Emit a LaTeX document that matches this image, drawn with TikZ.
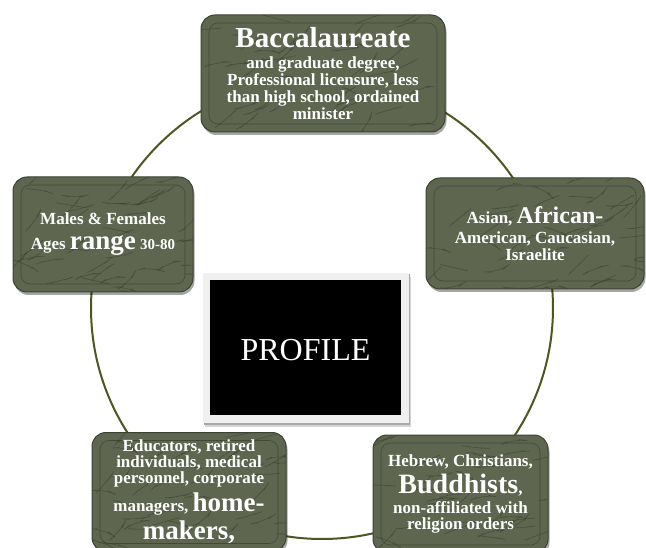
\documentclass[tikz,border=0pt]{standalone}
\usepackage{fontspec}
\setmainfont{Liberation Serif}
\usepackage{tikz}
\usetikzlibrary{positioning, calc, shadows}
\definecolor{stone}{HTML}{5E6650}
\definecolor{stoneedge}{HTML}{3C4232}
\definecolor{veincol}{HTML}{343A29}
\definecolor{ringgreen}{HTML}{4C5622}
\definecolor{framegray}{HTML}{F0F0F0}
\definecolor{stripgray}{HTML}{D4D4D4}

% big word inside a box line
\newcommand{\bigword}[2][28]{{\fontsize{#1}{#1}\selectfont #2}}

% marble texture for the stone boxes
\newcommand{\marblefill}{%
  \foreach \k in {1,...,45}{%
    \pgfmathsetmacro{\fx}{rnd}%
    \pgfmathsetmacro{\fy}{rnd}%
    \pgfmathsetmacro{\fa}{15+rand*30}%
    \pgfmathsetmacro{\fb}{\fa+rand*45}%
    \coordinate (mx) at ($(path picture bounding box.south west)!\fx!(path picture bounding box.south east)$);
    \coordinate (my) at ($(path picture bounding box.south west)!\fy!(path picture bounding box.north west)$);
    \draw[veincol, line width=0.6pt, opacity=0.55] (mx |- my) -- ++(\fa:7pt) -- ++(\fb:5pt);
  }%
  \draw[stoneedge, line width=0.6pt, rounded corners=9pt, opacity=0.8]
    ([shift={(8pt,8pt)}]path picture bounding box.south west) rectangle
    ([shift={(-8pt,-8pt)}]path picture bounding box.north east);
}

\tikzset{
  stonebox/.style={rounded corners=14pt, fill=stone, draw=stoneedge, line width=1pt,
    text=white, align=center, inner sep=0pt, font=\bfseries\fontsize{17}{17}\selectfont,
    drop shadow={shadow xshift=1.5pt, shadow yshift=-3pt, opacity=0.35, fill=black},
    path picture={\marblefill}},
  ring/.style={draw=ringgreen, line width=2pt},
  framebox/.style={fill=framegray, inner sep=0pt, minimum width=206, minimum height=150,
    drop shadow={shadow xshift=1pt, shadow yshift=-1.5pt, opacity=0.2, fill=black}},
  profilebox/.style={fill=black, text=white, inner sep=0pt, minimum width=191, minimum height=135,
    font=\fontsize{32}{32}\selectfont, text height=27pt},
}

\begin{document}
\begin{tikzpicture}[x=1pt, y=-1pt]
  \useasboundingbox (0,0) rectangle (646,548);
  \pgfmathsetseed{11}

  % ring behind the boxes
  \coordinate (hub) at (322,308);
  \draw[ring] (hub) circle[radius=231];

  % centre picture with its ruler strips
  \node[framebox] (frame) at (306,348) {};
  \fill[stripgray] ([shift={(-2pt,-4pt)}]frame.north east) rectangle ([shift={(2pt,-4pt)}]frame.south east);
  \fill[stripgray] ([shift={(2pt,0pt)}]frame.south west) rectangle ([shift={(2pt,-4pt)}]frame.south east);
  \node[framebox, drop shadow={opacity=0}] at (frame) {};
  \node[profilebox] (profile) at (305.5,347.5) {PROFILE};

  % stone boxes
  \node[stonebox, minimum width=244, minimum height=117] (degree) at (323,73.5)
    {\bigword[29]{Baccalaureate}\\[4pt] and graduate degree,\\ Professional licensure, less\\
     than high school, ordained\\ minister};
  \node[stonebox, minimum width=180, minimum height=115] (ages) at (103,234.5)
    {Males \& Females\\[8pt] Ages \bigword[27]{range} {\fontsize{15}{15}\selectfont 30-80}};
  \node[stonebox, minimum width=218, minimum height=111] (ethnic) at (535,233.5)
    {Asian, \bigword[24]{African-}\\[3pt] American, Caucasian,\\ Israelite};
  \node[stonebox, minimum width=194, minimum height=119, font=\bfseries\fontsize{17}{16}\selectfont]
    (jobs) at (189,492)
    {Educators, retired\\ individuals, medical\\ personnel, corporate\\[4pt]
     managers, \bigword[27]{home-}\\[5pt] \bigword[27]{makers,}};
  \node[stonebox, minimum width=175, minimum height=118, font=\bfseries\fontsize{17}{16}\selectfont]
    (faith) at (460.5,494)
    {Hebrew, Christians,\\[4pt] \bigword{Buddhists},\\[4pt] non-affiliated with\\ religion orders};
\end{tikzpicture}
\end{document}
